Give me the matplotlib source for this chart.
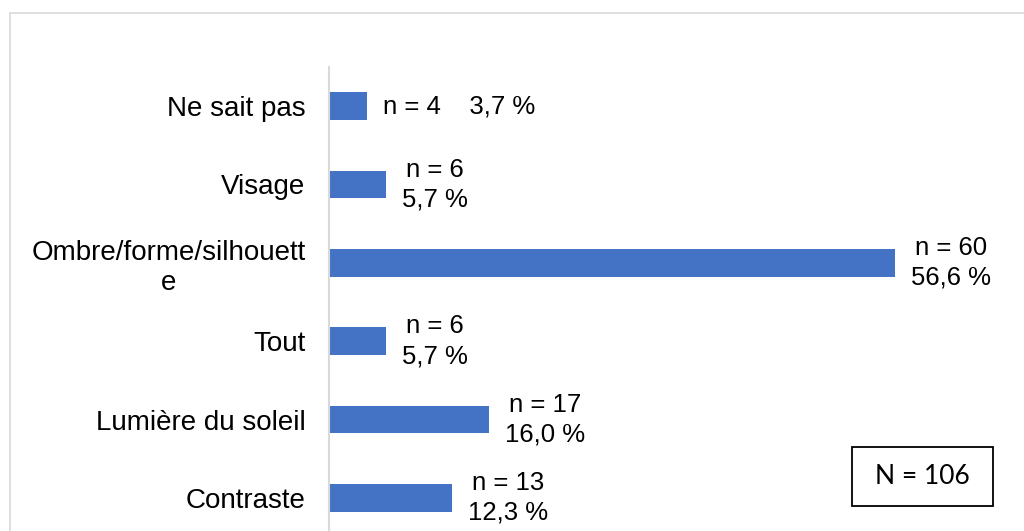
import matplotlib.pyplot as plt
from matplotlib.patches import Rectangle

# donnees
categories = ["Ne sait pas", "Visage", "Ombre/forme/silhouett\ne", "Tout",
              "Lumière du soleil", "Contraste"]
effectifs = [4, 6, 60, 6, 17, 13]
pourcents = ["3,7 %", "5,7 %", "56,6 %", "5,7 %", "16,0 %", "12,3 %"]
total_txt = "N = 106"

W, H = 1024, 531
fig = plt.figure(figsize=(W / 100, H / 100), dpi=100)

# cadre gris autour du graphique (coupe a droite et en bas)
fig.patches.append(Rectangle((9.5 / W, -0.05), 1.2, 1 - 12.5 / H + 0.05,
                             transform=fig.transFigure, fill=False,
                             edgecolor="#D9D9D9", linewidth=1.2))

px = 566 / 60.0  # pixels par unite
xmax = 70
ax = fig.add_axes([329 / W, (H - 537) / H, xmax * px / W, 470 / H])

y = list(range(len(categories)))
ax.barh(y, effectifs, height=0.35, color="#4472C4")
ax.set_ylim(len(categories) - 0.5, -0.5)
ax.set_xlim(0, xmax)

for s in ["top", "right", "bottom"]:
    ax.spines[s].set_visible(False)
ax.spines["left"].set_color("#D9D9D9")
ax.spines["left"].set_linewidth(1.5)
ax.set_xticks([])
ax.set_yticks(y)
ax.set_yticklabels(categories, fontsize=20, family="Liberation Sans")
for lab in ax.get_yticklabels():
    lab.set_multialignment("center")
ax.tick_params(axis="y", length=0, pad=17)

for i, (n, p) in enumerate(zip(effectifs, pourcents)):
    if i == 0:
        txt = "n = %d    %s" % (n, p)
    else:
        txt = "n = %d\n%s" % (n, p)
    ax.annotate(txt, (n, i), xytext=(16, 0), textcoords="offset pixels",
                ha="left", va="center", multialignment="center",
                fontsize=18.5, family="Liberation Sans", linespacing=1.3)

# encadre N
fig.patches.append(Rectangle((852 / W, 1 - 506 / H), 141 / W, 59 / H,
                             transform=fig.transFigure, fill=False,
                             edgecolor="black", linewidth=1.3))
fig.text(922 / W, 1 - 476 / H, total_txt, ha="center", va="center",
         fontsize=19, family="Lato")

fig.savefig("out.png", dpi=100)
